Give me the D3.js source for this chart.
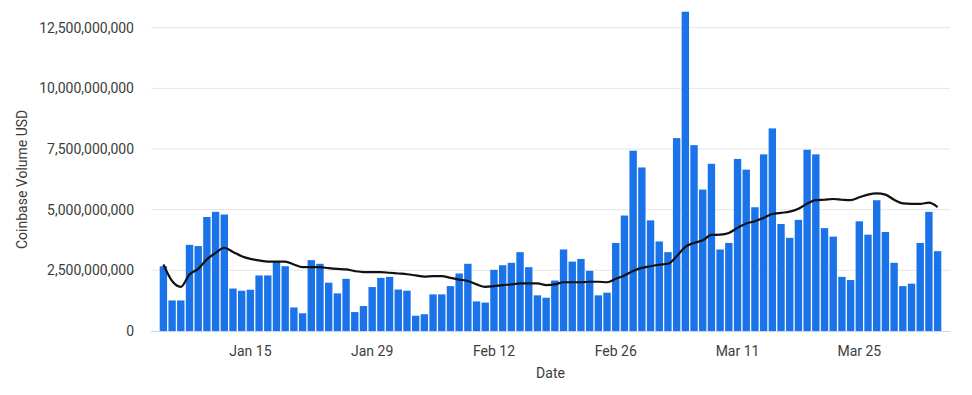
<!DOCTYPE html>
<html>
<head>
<meta charset="utf-8">
<script src="https://cdn.jsdelivr.net/npm/d3@7"></script>
<style>
    body { margin: 0; background: #fff; }
    svg { font-family: Roboto, "Noto Sans", sans-serif; }
</style>
</head>
<body>
<div id="chart"></div>
<script>
// data: daily Coinbase volume (billions USD), 2024-01-05 .. 2024-04-03
const firstDay = new Date(2024, 0, 5);
const lastDay = new Date(2024, 3, 3);

const volume = [
    2.67, 1.26, 1.26, 3.55, 3.50, 4.70, 4.91, 4.80, 1.75, 1.66,
    1.70, 2.29, 2.29, 2.84, 2.67, 0.97, 0.73, 2.92, 2.77, 1.99,
    1.55, 2.15, 0.78, 1.03, 1.81, 2.19, 2.23, 1.71, 1.66, 0.63,
    0.69, 1.51, 1.51, 1.85, 2.37, 2.77, 1.22, 1.17, 2.52, 2.71,
    2.81, 3.25, 2.63, 1.47, 1.37, 2.08, 3.36, 2.86, 2.97, 2.48,
    1.47, 1.58, 3.63, 4.76, 7.43, 6.74, 4.56, 3.69, 3.25, 7.95,
    13.16, 7.66, 5.83, 6.89, 3.36, 3.63, 7.09, 6.65, 5.10, 7.28,
    8.35, 4.41, 3.84, 4.58, 7.47, 7.28, 4.24, 3.89, 2.23, 2.10,
    4.52, 3.97, 5.39, 4.08, 2.81, 1.85, 1.95, 3.63, 4.91, 3.29
];

const movingAvg = [
    2.74, 2.06, 1.82, 2.33, 2.56, 2.95, 3.22, 3.43, 3.26, 3.08,
    2.97, 2.91, 2.86, 2.86, 2.86, 2.74, 2.63, 2.63, 2.63, 2.59,
    2.56, 2.54, 2.47, 2.43, 2.43, 2.43, 2.40, 2.37, 2.34, 2.29,
    2.24, 2.26, 2.26, 2.19, 2.12, 2.06, 1.92, 1.82, 1.85, 1.89,
    1.92, 1.96, 1.96, 1.96, 1.89, 1.92, 2.01, 2.01, 2.01, 2.03,
    2.03, 2.01, 2.15, 2.29, 2.47, 2.60, 2.67, 2.73, 2.77, 3.08,
    3.47, 3.63, 3.74, 3.96, 3.97, 4.04, 4.25, 4.43, 4.52, 4.66,
    4.82, 4.87, 4.92, 5.04, 5.25, 5.39, 5.41, 5.44, 5.41, 5.39,
    5.51, 5.62, 5.67, 5.62, 5.41, 5.26, 5.24, 5.24, 5.29, 5.11
];

const yTicks = [0, 2.5e9, 5e9, 7.5e9, 10e9, 12.5e9];
const xTickLabels = ["Jan 15", "Jan 29", "Feb 12", "Feb 26", "Mar 11", "Mar 25"];

let days = d3.timeDay.range(firstDay, d3.timeDay.offset(lastDay, 1));
let parseTick = d3.timeParse("%Y %b %d");
let xTicks = xTickLabels.map(s => parseTick("2024 " + s));

let displayData = days.map((d, i) => ({
    date: d,
    vol: volume[i] * 1e9,
    avg: movingAvg[i] * 1e9
}));

// chart area
let W = 972, H = 395;
let plot = {left: 151, right: 950, top: 27.7, bottom: 331};
let textColor = "#3c3c3c";

let svg = d3.select("#chart").append("svg")
    .attr("width", W)
    .attr("height", H);

// scales
let x = d3.scaleBand()
    .domain(days.map(d => +d))
    .range([plot.left, plot.right])
    .paddingInner(0.15)
    .paddingOuter(1);

let y = d3.scaleLinear()
    .domain([0, 12.5e9])
    .range([plot.bottom, plot.top]);

// grid lines
svg.append("g")
    .attr("class", "grid")
    .selectAll("line")
    .data(yTicks.slice(1))
    .join("line")
    .attr("x1", plot.left)
    .attr("x2", plot.right)
    .attr("y1", d => y(d))
    .attr("y2", d => y(d))
    .attr("stroke", "#e6e6e6")
    .attr("stroke-width", 1);

// y axis labels
let yAxis = svg.append("g")
    .attr("transform", `translate(${plot.left},0)`)
    .call(d3.axisLeft(y).tickValues(yTicks).tickSize(0).tickPadding(17)
        .tickFormat(d3.format(",")));
yAxis.select(".domain").remove();
yAxis.selectAll("text")
    .attr("font-size", "14px")
    .attr("font-family", "Roboto, sans-serif")
    .attr("fill", textColor);

// bars
svg.append("g")
    .attr("class", "bars")
    .selectAll("rect")
    .data(displayData)
    .join("rect")
    .attr("x", d => x(+d.date))
    .attr("width", x.bandwidth())
    .attr("y", d => y(d.vol))
    .attr("height", d => y(0) - y(d.vol))
    .attr("fill", "#1a73e8");

// baseline
svg.append("line")
    .attr("x1", plot.left)
    .attr("x2", plot.right)
    .attr("y1", y(0) + 0.5)
    .attr("y2", y(0) + 0.5)
    .attr("stroke", "#c9d6f0")
    .attr("stroke-width", 1);

// moving average line
let line = d3.line()
    .curve(d3.curveMonotoneX)
    .x(d => x(+d.date) + x.bandwidth() / 2)
    .y(d => y(d.avg));

svg.append("path")
    .datum(displayData)
    .attr("d", line)
    .attr("fill", "none")
    .attr("stroke", "#111")
    .attr("stroke-width", 2.2)
    .attr("stroke-linejoin", "round");

// x axis labels
let xAxis = svg.append("g")
    .attr("transform", `translate(0,${plot.bottom})`)
    .call(d3.axisBottom(x).tickValues(xTicks.map(d => +d)).tickSize(0).tickPadding(15)
        .tickFormat((d, i) => xTickLabels[i]));
xAxis.select(".domain").remove();
xAxis.selectAll("text")
    .attr("font-size", "14px")
    .attr("font-family", "Roboto, sans-serif")
    .attr("fill", textColor);

// axis titles
svg.append("text")
    .attr("x", (plot.left + plot.right) / 2)
    .attr("y", 378)
    .attr("text-anchor", "middle")
    .attr("font-size", "14px")
    .attr("fill", textColor)
    .text("Date");

svg.append("text")
    .attr("transform", `translate(27,${(plot.top + plot.bottom) / 2}) rotate(-90)`)
    .attr("text-anchor", "middle")
    .attr("font-size", "14px")
    .attr("fill", textColor)
    .text("Coinbase Volume USD");
</script>
</body>
</html>
